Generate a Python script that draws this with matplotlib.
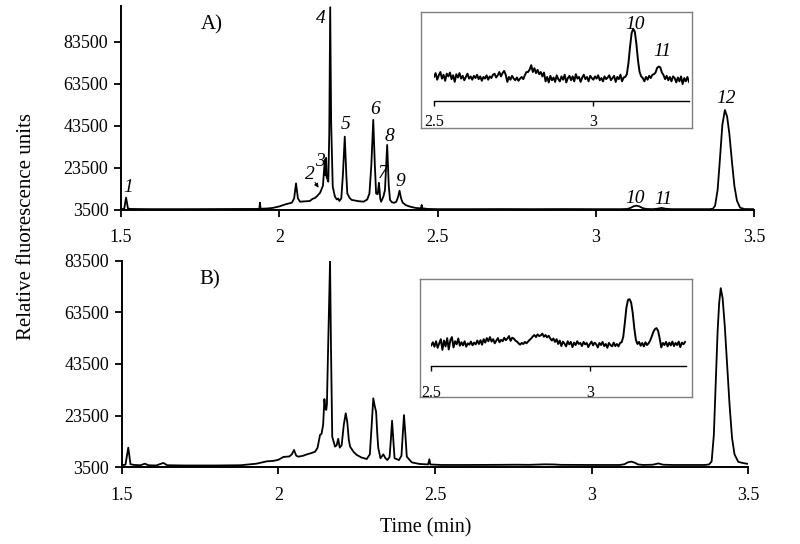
import matplotlib
matplotlib.use("Agg")
import matplotlib.pyplot as plt
import numpy as np

plt.rcParams['font.family'] = ['Liberation Serif', 'DejaVu Serif']

# ---- panel A trace (time in min, relative fluorescence units) ----
a_time = [1.500, 1.510, 1.516, 1.522, 1.530, 1.560, 1.600, 1.700, 1.800, 1.900,
          1.937, 1.939, 1.941, 1.960, 1.980, 2.000, 2.020, 2.040, 2.047, 2.053,
          2.059, 2.066, 2.080, 2.097, 2.105, 2.113, 2.120, 2.129, 2.138, 2.144,
          2.146, 2.148, 2.150, 2.155, 2.158, 2.161, 2.164, 2.169, 2.176, 2.182,
          2.186, 2.190, 2.196, 2.201, 2.207, 2.212, 2.215, 2.222, 2.229, 2.250,
          2.266, 2.278, 2.285, 2.291, 2.297, 2.302, 2.306, 2.311, 2.315, 2.319,
          2.322, 2.329, 2.334, 2.341, 2.346, 2.350, 2.356, 2.363, 2.370, 2.375,
          2.380, 2.385, 2.390, 2.400, 2.413, 2.430, 2.445, 2.448, 2.450, 2.452,
          2.470, 2.500, 2.600, 2.700, 2.800, 2.900, 3.000, 3.080, 3.100, 3.110,
          3.120, 3.129, 3.138, 3.148, 3.160, 3.180, 3.195, 3.208, 3.220, 3.240,
          3.300, 3.360, 3.370, 3.377, 3.385, 3.392, 3.400, 3.408, 3.415, 3.422,
          3.430, 3.438, 3.446, 3.456, 3.470, 3.500]
a_signal = [3900, 4000, 9400, 4200, 4000, 3950, 3900, 3900, 3950, 4000,
            4000, 7000, 4100, 4200, 4500, 5200, 6200, 7000, 9000, 16200,
            9000, 7450, 7600, 7800, 8800, 9200, 10200, 11700, 15000, 27500,
            20000, 28300, 19000, 17000, 40000, 100000, 45000, 14600, 9800, 8500,
            9000, 7800, 9000, 20000, 38400, 20000, 11400, 9300, 8300, 7700,
            7450, 8500, 11400, 25000, 46400, 25000, 11400, 11000, 16500, 9000,
            7450, 9900, 13000, 34450, 15000, 8300, 7200, 6900, 7500, 9500,
            12700, 9000, 7000, 5800, 5100, 4500, 4300, 4300, 5900, 4300,
            4000, 3900, 3900, 3950, 3900, 3950, 3900, 3900, 4000, 4500,
            5300, 5550, 5200, 4400, 4000, 3900, 4100, 4500, 4100, 3900,
            3900, 3900, 4100, 5500, 13000, 27000, 44000, 51100, 48000, 40000,
            27000, 15000, 8000, 4600, 3950, 3900]

# ---- panel B trace ----
b_time = [1.500, 1.512, 1.521, 1.528, 1.540, 1.560, 1.574, 1.585, 1.610, 1.633,
          1.645, 1.700, 1.800, 1.880, 1.930, 1.963, 1.985, 2.000, 2.016, 2.035,
          2.043, 2.050, 2.057, 2.064, 2.080, 2.091, 2.105, 2.117, 2.125, 2.133,
          2.138, 2.143, 2.147, 2.150, 2.153, 2.155, 2.158, 2.165, 2.168, 2.172,
          2.181, 2.186, 2.191, 2.196, 2.202, 2.209, 2.215, 2.220, 2.225, 2.229,
          2.240, 2.250, 2.265, 2.282, 2.292, 2.298, 2.303, 2.308, 2.312, 2.316,
          2.319, 2.326, 2.335, 2.342, 2.348, 2.355, 2.359, 2.363, 2.367, 2.371,
          2.385, 2.393, 2.397, 2.401, 2.405, 2.410, 2.426, 2.450, 2.478, 2.482,
          2.485, 2.520, 2.600, 2.700, 2.760, 2.800, 2.850, 2.880, 2.900, 3.000,
          3.090, 3.105, 3.115, 3.126, 3.137, 3.148, 3.165, 3.195, 3.213, 3.228,
          3.260, 3.360, 3.375, 3.383, 3.390, 3.396, 3.402, 3.407, 3.412, 3.418,
          3.425, 3.432, 3.440, 3.448, 3.456, 3.468, 3.485, 3.500]
b_signal = [4300, 4500, 11100, 4700, 4400, 4300, 4900, 4300, 4200, 5200,
            4300, 4200, 4200, 4300, 4900, 5800, 6000, 6400, 7500, 7700,
            8500, 10200, 8000, 7600, 8000, 8500, 9000, 9500, 11000, 16000,
            16500, 20000, 29900, 26000, 25700, 28000, 45000, 83300, 50000, 15300,
            11500, 12000, 14500, 11100, 12000, 20000, 24400, 21000, 14000, 11500,
            9500, 8300, 7300, 6700, 8500, 20000, 30200, 27000, 25000, 16000,
            10900, 7000, 8500, 7000, 6300, 7500, 14000, 21500, 14000, 7000,
            6300, 8000, 16000, 23700, 17000, 7600, 5400, 4800, 4600, 6600,
            4600, 4400, 4400, 4450, 4500, 4450, 4650, 4600, 4450, 4400,
            4400, 4700, 5400, 5700, 5300, 4600, 4400, 4500, 5000, 4500,
            4400, 4400, 4600, 5800, 16000, 36000, 56000, 67000, 72800, 69000,
            58000, 44000, 28000, 15000, 8500, 5600, 5100, 4800]

# ---- insets (2.5-3.3 min, sampled every 0.005 min) ----
inset_time = np.linspace(2.5, 3.3, 161)
inset_a = [3800, 3940, 3700, 3860, 3980, 3740, 3880, 3660, 3920, 3820,
           3960, 3720, 3860, 3620, 3900, 3780, 3940, 3740, 3840, 3680,
           3800, 3920, 3740, 3820, 3700, 3840, 3760, 3880, 3720, 3820,
           3660, 3800, 3740, 3860, 3700, 3820, 3760, 3880, 3920, 3780,
           3860, 3980, 3820, 3940, 4020, 3880, 3620, 3800, 3700, 3840,
           3740, 3680, 3780, 3660, 3740, 3800, 3720, 3860, 3980, 3980,
           4070, 4230, 3980, 4120, 3940, 4060, 3900, 3980,
           3820, 3960, 3640, 3800, 3600, 3840, 3680, 3780, 3620, 3860, 3720, 3640,
           3820, 3700, 3880, 3600, 3760, 3840, 3680, 3820, 3640, 3900,
           3740, 3800, 3620, 3780, 3880, 3720, 3800, 3640, 3840, 3760,
           3700, 3820, 3740, 3860, 3680, 3760, 3640, 3820, 3720, 3780,
           3860, 3680, 3760, 3840, 3620, 3800, 3720, 3880, 3640, 3780,
           3800, 3900, 4300, 4900, 5400, 5560, 5450, 5000, 4400, 3980, 3820,
           3760, 3640, 3800, 3700, 3840, 3760, 3880,
           3900, 3960, 4130, 4180, 4150, 3960, 3870, 3720,
           3840, 3680, 3800, 3640, 3820, 3760, 3600, 3780, 3640, 3820,
           3540, 3760, 3640, 3800, 3620]
inset_b = [4360, 4450, 4320, 4480, 4290, 4420, 4540, 4230, 4500, 4330,
           4570, 4240, 4510, 4600, 4300, 4480, 4390, 4560, 4350, 4450,
           4360, 4480, 4320, 4420, 4380, 4470, 4360, 4440, 4390, 4500,
           4400, 4510, 4380, 4540, 4440, 4570, 4480, 4600, 4470, 4540,
           4420, 4500, 4570, 4450, 4520, 4480, 4580, 4510, 4560, 4630,
           4490, 4580, 4560, 4500, 4470, 4420, 4380, 4430, 4400, 4460,
           4420, 4470, 4520, 4560, 4620, 4660, 4600, 4680, 4630, 4650,
           4700, 4610, 4660, 4590, 4640, 4560, 4500, 4560,
           4460, 4540, 4400, 4500, 4340, 4470, 4410, 4330, 4480, 4390,
           4460, 4310, 4440, 4370, 4480, 4400, 4430, 4340, 4460, 4390,
           4430, 4310, 4400, 4470, 4360, 4440, 4390, 4300, 4430, 4370,
           4460, 4340, 4400, 4290, 4430, 4370, 4330, 4440, 4340, 4400,
           4330, 4430,
           4450, 4600, 5000, 5450, 5680, 5700, 5600, 5300, 4850, 4520,
           4400, 4460, 4350, 4430, 4330, 4450, 4370, 4420, 4500, 4620,
           4750, 4830, 4860, 4780, 4560, 4300,
           4430, 4370, 4460, 4330, 4440, 4360, 4470, 4340, 4430, 4370,
           4470, 4310, 4440, 4390, 4460]

# peak numbers on panel A: (label, time, signal)
peak_labels = [("1", 1.522, 14000), ("2", 2.097, 20200), ("3", 2.127, 26500),
               ("4", 2.131, 94800), ("5", 2.211, 44000), ("6", 2.303, 51100),
               ("7", 2.326, 21000), ("8", 2.348, 38700), ("9", 2.381, 17000),
               ("10", 3.124, 9100), ("11", 3.213, 8600), ("12", 3.412, 56700)]
inset_labels = [("10", 3.131, 5730), ("11", 3.217, 4720)]

xticks = [1.5, 2, 2.5, 3, 3.5]
xticklabels = ["1.5", "2", "2.5", "3", "3.5"]
yticks = [3500, 23500, 43500, 63500, 83500]

W, H = 800, 544
fig = plt.figure(figsize=(8, 5.44), dpi=100)


def px_axes(x0, x1, ytop, ybot):
    return fig.add_axes([x0 / W, (H - ybot) / H, (x1 - x0) / W, (ybot - ytop) / H])


def style_main(ax, pad):
    for s in ['top', 'right']:
        ax.spines[s].set_visible(False)
    for s in ['left', 'bottom']:
        ax.spines[s].set_linewidth(1.4)
    ax.set_xlim(1.5, 3.5)
    ax.set_xticks(xticks)
    ax.set_xticklabels(xticklabels)
    ax.set_yticks(yticks)
    ax.set_yticklabels([str(v) for v in yticks])
    ax.tick_params(axis='both', direction='out', length=5, width=1.3, labelsize=13)
    ax.tick_params(axis='x', pad=pad)
    ax.tick_params(axis='y', pad=4)


axA = px_axes(121, 754, 6, 210)
axA.plot(a_time, a_signal, color='black', lw=1.3)
style_main(axA, 8.5)
axA.set_ylim(3500, 100600)
axA.text(1.786, 91600, "A)", fontsize=15, ha='center', va='center')
for lab, t, v in peak_labels:
    axA.text(t, v, lab, fontsize=14, style='italic', ha='center', va='center')
axA.annotate("", xy=(2.129, 13000), xytext=(2.108, 17800),
             arrowprops=dict(arrowstyle='-|>', color='black', lw=0.7,
                             mutation_scale=6))

axB = px_axes(121.7, 748.3, 260.5, 467.3)
axB.plot(b_time, b_signal, color='black', lw=1.3)
style_main(axB, 9)
axB.set_ylim(3500, 83500)
axB.text(1.782, 76000, "B)", fontsize=15, ha='center', va='center')


def inset(box, inner, xmax, ylim, values, pad):
    frame = px_axes(*box)
    frame.set_xticks([])
    frame.set_yticks([])
    frame.set_facecolor('white')
    for s in frame.spines.values():
        s.set_color('#7f7f7f')
        s.set_linewidth(1.0)
    ax = px_axes(*inner)
    ax.set_facecolor('none')
    ax.plot(inset_time, values, color='black', lw=1.4)
    ax.set_xlim(2.5, xmax)
    ax.set_ylim(*ylim)
    for s in ['top', 'right', 'left']:
        ax.spines[s].set_visible(False)
    ax.spines['bottom'].set_linewidth(1.0)
    ax.set_yticks([])
    ax.set_xticks([2.5, 3])
    ax.set_xticklabels(["2.5", "3"])
    ax.tick_params(axis='x', direction='out', length=3.5, width=1.0,
                   labelsize=11.5, pad=pad)
    return ax


insA = inset((420.7, 691.7, 11.7, 128.3), (434, 689, 20, 100.7), 3.30,
             (2933, 5879), inset_a, 6)
for lab, t, v in inset_labels:
    insA.text(t, v, lab, fontsize=14, style='italic', ha='center', va='center')
insB = inset((419.7, 692, 279, 397.3), (431.3, 685.7, 285, 366.3), 3.302,
             (3753, 6111), inset_b, 10)

fig.text(27 / W, 1 - 227 / H, "Relative fluorescence units", rotation=90,
         fontsize=15, ha='center', va='center')
fig.text(426 / W, 1 - 528 / H, "Time (min)", fontsize=14.5, ha='center', va='center')

fig.savefig("out.png", dpi=100)
